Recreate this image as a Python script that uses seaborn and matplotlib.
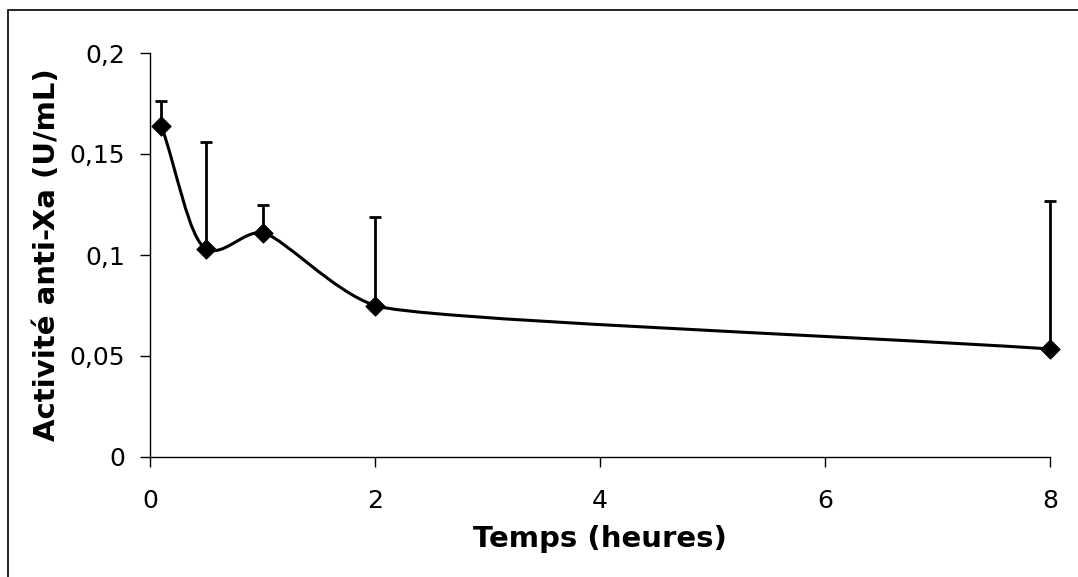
import numpy as np
import pandas as pd
import matplotlib
matplotlib.use("Agg")
import matplotlib.pyplot as plt
from matplotlib.path import Path
from matplotlib.patches import PathPatch, Rectangle
import seaborn as sns

# === Data ===
temps = [0.1, 0.5, 1, 2, 8]
activite = [0.164, 0.103, 0.111, 0.075, 0.0535]
err_haut = [0.012, 0.053, 0.014, 0.044, 0.073]

xticks = [0, 2, 4, 6, 8]
yticks = [0, 0.05, 0.1, 0.15, 0.2]
ytick_labels = ["0", "0,05", "0,1", "0,15", "0,2"]

df = pd.DataFrame({"temps": temps, "activite": activite})

sns.set_style("white")
plt.rcParams["font.family"] = ["DejaVu Sans"]
plt.rcParams["text.color"] = "black"
plt.rcParams["axes.labelcolor"] = "black"
plt.rcParams["xtick.color"] = "black"
plt.rcParams["ytick.color"] = "black"

fig = plt.figure(figsize=(10.78, 5.77), dpi=100)
ax = fig.add_axes([150 / 1078, 1 - 457 / 577, 900 / 1078, 404 / 577])

# frame around the chart (right/bottom edges fall outside the image)
fig.patches.append(Rectangle((8 / 1078, -0.05), 1.2, 1 - 10 / 577 + 0.05,
                             transform=fig.transFigure, fill=False,
                             edgecolor="black", linewidth=1.2, clip_on=False))

ax.set_xlim(0, 8)
ax.set_ylim(0, 0.2)

# === Smoothed line, built in screen space (Excel-like) ===
pts = ax.transData.transform(np.column_stack([temps, activite]))
n = len(pts)

def unit(v):
    return v / np.hypot(*v)

seg = [np.hypot(*(pts[i + 1] - pts[i])) for i in range(n - 1)]
tang = []
for i in range(n):
    if i == 0:
        tang.append(unit(pts[1] - pts[0]))
    elif i == n - 1:
        tang.append(unit(pts[-1] - pts[-2]))
    else:
        tang.append(unit(unit(pts[i] - pts[i - 1]) + unit(pts[i + 1] - pts[i])))
reach = []
for i in range(n):
    near = [seg[j] for j in (i - 1, i) if 0 <= j < n - 1]
    reach.append(min(near) / 3)

verts = [pts[0]]
codes = [Path.MOVETO]
for i in range(n - 1):
    c1 = pts[i] + tang[i] * reach[i]
    c2 = pts[i + 1] - tang[i + 1] * reach[i + 1]
    verts += [c1, c2, pts[i + 1]]
    codes += [Path.CURVE4] * 3
verts = ax.transData.inverted().transform(np.array(verts))
ax.add_patch(PathPatch(Path(verts, codes), fill=False, edgecolor="black",
                       linewidth=2.2, clip_on=False))

# === Error bars (upper only) ===
eb = ax.errorbar(temps, activite, yerr=[np.zeros(len(err_haut)), err_haut],
                 fmt="none", ecolor="black", elinewidth=2, capsize=4.5, capthick=2)
for art in eb.lines[1] + eb.lines[2]:
    art.set_clip_on(False)

# === Markers ===
sns.scatterplot(data=df, x="temps", y="activite", marker="D", s=95,
                color="black", edgecolor="black", zorder=5, clip_on=False, ax=ax)

ax.set_xticks(xticks)
ax.set_yticks(yticks)
ax.set_yticklabels(ytick_labels)
ax.tick_params(axis="both", direction="out", length=7, width=1, labelsize=18,
               bottom=True, left=True, colors="black")
ax.tick_params(axis="x", pad=16)
ax.tick_params(axis="y", pad=11)

for s in ["top", "right"]:
    ax.spines[s].set_visible(False)
for s in ["left", "bottom"]:
    ax.spines[s].set_color("black")
    ax.spines[s].set_linewidth(1)

ax.set_xlabel("Temps (heures)", fontsize=21, fontweight="bold", labelpad=9, color="black")
ax.set_ylabel("Activité anti-Xa (U/mL)", fontsize=21, fontweight="bold", labelpad=6, color="black")

fig.savefig("out.png", dpi=100)
